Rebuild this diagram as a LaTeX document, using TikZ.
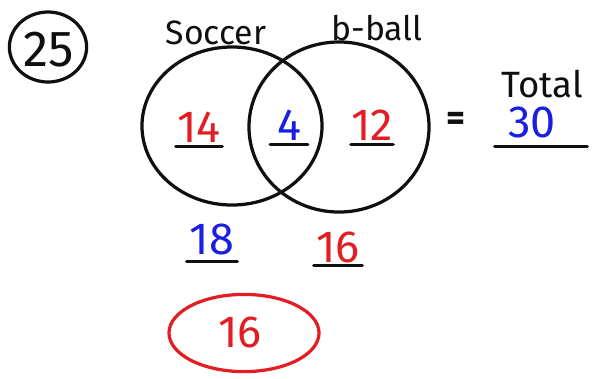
\documentclass[tikz,border=0pt]{standalone}
\usepackage{fontspec}
\setmainfont{Fira Sans}
\usetikzlibrary{
  shapes.geometric,
  positioning
}
\definecolor{inkblack}{RGB}{15, 15, 15}
\definecolor{inkred}{RGB}{225, 30, 35}
\definecolor{inkblue}{RGB}{25, 30, 225}
\tikzset{
ring/.style={
  draw=inkblack,
  ellipse,
  line width=2.3pt,
  inner sep=0pt
},
redring/.style={
  ring,
  draw=inkred
},
word/.style={
  font=\fontsize{24}{24}\selectfont,
  text=inkblack,
  inner sep=0pt
},
redcount/.style={
  font=\fontsize{32}{32}\selectfont,
  text=inkred,
  inner xsep=0pt,
  inner ysep=3pt
},
bluecount/.style={
  redcount,
  text=inkblue
},
uline/.style={
  draw=inkblack,
  line width=2.3pt,
  line cap=round
}
}

\begin{document}
\begin{tikzpicture}[x=0.025cm, y=-0.025cm]
  \useasboundingbox (0,0) rectangle (609,378);

  % Problem number
  \node[ring, minimum width=1.93cm, minimum height=1.75cm] (qring) at (48,47) {};
  \node[word, font=\fontsize{36}{36}\selectfont] (qnum) at (49,50) {25};

  % The two sets
  \node[ring, minimum width=4.5cm, minimum height=3.95cm] (soccer) at (232,126) {};
  \node[ring, minimum width=4.5cm, minimum height=4.25cm] (bball) at (339,127) {};
  \node[word] (soccerlbl) at (216,33) {Soccer};
  \node[word] (bballlbl) at (377,28) {b-ball};

  % Counts inside the sets
  \node[redcount, minimum width=1.15cm] (onlysoccer) at (199,127) {14};
  \node[bluecount, minimum width=0.93cm] (both) at (289,125) {4};
  \node[redcount, minimum width=0.98cm] (onlybball) at (372,125) {12};

  % Total
  \node[word, font=\fontsize{26}{26}\selectfont\bfseries] (eq) at (456,121) {=};
  \node[word, font=\fontsize{26}{26}\selectfont] (totallbl) at (542,84) {Total};
  \node[bluecount, minimum width=1.85cm, inner ysep=6pt] (total) at (532,122) {30};

  % Set sizes below
  \node[bluecount, minimum width=1.25cm, inner ysep=5pt] (soccersum) at (212,239) {18};
  \node[redcount, minimum width=1.2cm, inner ysep=2pt] (bballsum) at (338,247) {16};

  % Answer
  \node[redring, minimum width=3.75cm, minimum height=1.93cm] (ansring) at (244,333) {};
  \node[redcount, inner ysep=0pt] (ans) at (240,332) {16};

  % Underlines
  \draw[uline] (onlysoccer.south west) -- (onlysoccer.south east);
  \draw[uline] (both.south west) -- (both.south east);
  \draw[uline] (onlybball.south west) -- (onlybball.south east);
  \draw[uline] (total.south west) -- ([xshift=0.45cm]total.south east);
  \draw[uline] (soccersum.south west) -- (soccersum.south east);
  \draw[uline] (bballsum.south west) -- (bballsum.south east);
\end{tikzpicture}
\end{document}
